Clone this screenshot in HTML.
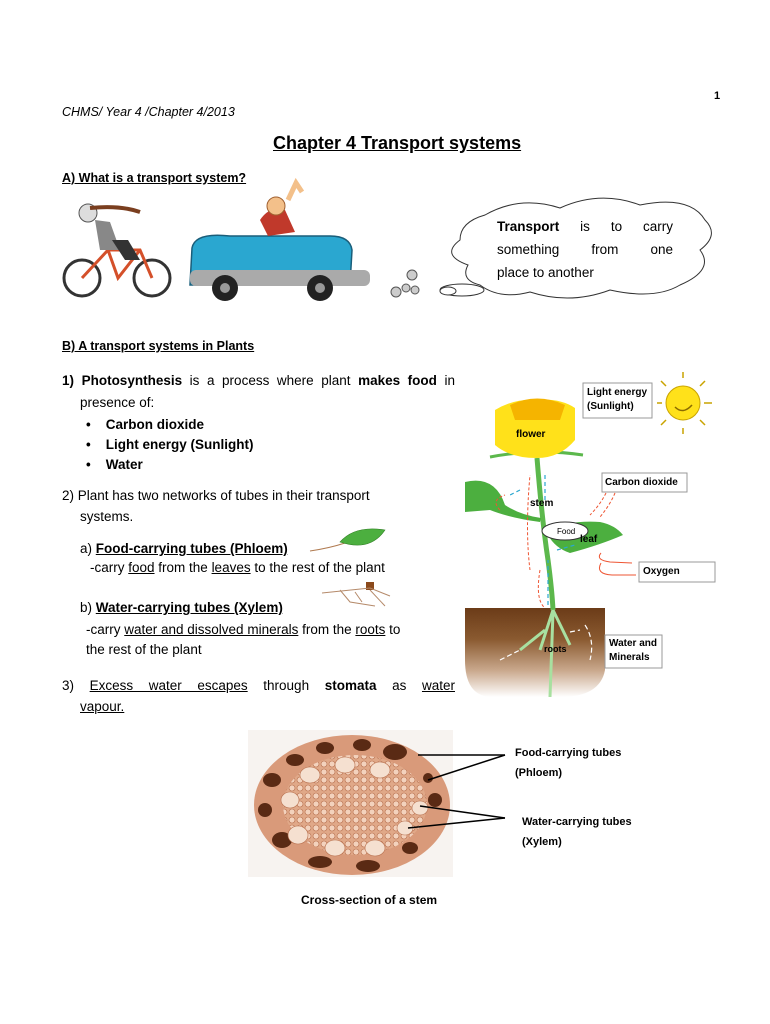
<!DOCTYPE html>
<html><head><meta charset="utf-8">
<style>
body{margin:0;background:#fff;}
#p{position:relative;width:770px;height:1024px;overflow:hidden;font-family:"Liberation Sans",sans-serif;color:#000;}
.t{position:absolute;white-space:nowrap;font-size:13.5px;line-height:16px;}
.b{font-weight:bold;}
.u{text-decoration:underline;}
.j{position:absolute;text-align:justify;text-align-last:justify;white-space:normal;font-size:13.5px;line-height:16px;}
.lbl{position:absolute;font-size:11px;font-weight:bold;line-height:14px;}
</style></head><body><div id="p">

<div class="t b" style="left:714px;top:88px;font-size:11px;">1</div>
<div class="t" style="left:62px;top:104px;font-style:italic;font-size:12.5px;">CHMS/ Year 4 /Chapter 4/2013</div>
<div class="t b u" style="left:273px;top:132px;font-size:18px;line-height:22px;">Chapter 4 Transport systems</div>
<div class="t b u" style="left:62px;top:170px;font-size:12.5px;">A) What is a transport system?</div>

<svg style="position:absolute;left:0;top:0" width="770" height="1024">
 <defs>
  <linearGradient id="soil" x1="0" y1="0" x2="0" y2="1">
   <stop offset="0" stop-color="#6b3b18"/><stop offset="0.35" stop-color="#8a5a30"/><stop offset="0.7" stop-color="#c9a88c"/><stop offset="1" stop-color="#fff"/>
  </linearGradient>
  <pattern id="cells" width="8" height="8" patternUnits="userSpaceOnUse">
   <rect width="8" height="8" fill="#e0a888"/><circle cx="4" cy="4" r="3" fill="#f3d2bd" stroke="#b8704e" stroke-width=".6"/>
  </pattern>
 </defs>
 <g fill="none" stroke="#333" stroke-width="3">
  <circle cx="82" cy="278" r="18"/><circle cx="152" cy="278" r="18"/>
 </g>
 <path d="M82 278 L108 250 L140 250 L152 278 M108 250 L118 278 L140 250" stroke="#d4502a" stroke-width="3" fill="none"/>
 <path d="M95 220 L110 222 L120 250 L100 250 Z" fill="#888"/>
 <path d="M112 240 L128 240 L140 260 L125 260Z" fill="#333"/>
 <circle cx="88" cy="213" r="9" fill="#ddd" stroke="#555"/>
 <path d="M90 208 Q120 205 140 212" stroke="#7a3e1f" stroke-width="4" fill="none"/>
 <path d="M192 248 Q195 232 230 236 L330 236 Q350 236 352 250 L350 285 L190 285 Z" fill="#2aa7d0" stroke="#1a5e7a" stroke-width="1.5"/>
 <rect x="190" y="270" width="180" height="16" rx="6" fill="#aaa"/>
 <circle cx="225" cy="288" r="13" fill="#222"/><circle cx="225" cy="288" r="5" fill="#999"/>
 <circle cx="320" cy="288" r="13" fill="#222"/><circle cx="320" cy="288" r="5" fill="#999"/>
 <path d="M260 220 Q270 205 285 210 L295 232 L268 236Z" fill="#c0392b"/>
 <circle cx="276" cy="206" r="9" fill="#f3c08a" stroke="#a06030"/>
 <path d="M288 200 L296 183 L302 192" stroke="#f3c08a" stroke-width="5" fill="none"/>
 <g fill="#ccc" stroke="#555"><circle cx="396" cy="292" r="5"/><circle cx="406" cy="288" r="4"/><circle cx="412" cy="275" r="5"/><circle cx="415" cy="290" r="4"/></g>
 <path d="M485 215 Q520 195 560 208 Q600 190 640 205 Q690 195 705 220 Q720 235 700 250 Q715 270 680 285 Q655 300 610 290 Q570 305 530 292 Q500 300 480 285 Q460 280 468 265 Q440 255 460 240 Q460 222 485 215Z" fill="#fff" stroke="#333" stroke-width="1"/>
 <ellipse cx="462" cy="290" rx="22" ry="6" fill="#fff" stroke="#333"/>
 <ellipse cx="448" cy="291" rx="8" ry="4" fill="#fff" stroke="#333"/>
</svg>
<div class="j" style="left:497px;top:219px;width:176px;"><span class="b">Transport</span> is to carry</div>
<div class="j" style="left:497px;top:242px;width:176px;">something from one</div>
<div class="t" style="left:497px;top:265px;">place to another</div>

<div class="t b u" style="left:62px;top:338px;font-size:12.5px;">B) A transport systems in Plants</div>

<div class="j" style="left:62px;top:373px;width:393px;"><span class="b">1) Photosynthesis</span> is a process where plant <span class="b">makes food</span> in</div>
<div class="t" style="left:80px;top:395px;">presence of:</div>
<div class="t b" style="left:86px;top:417px;">•&nbsp;&nbsp;&nbsp;&nbsp;Carbon dioxide</div>
<div class="t b" style="left:86px;top:437px;">•&nbsp;&nbsp;&nbsp;&nbsp;Light energy (Sunlight)</div>
<div class="t b" style="left:86px;top:457px;">•&nbsp;&nbsp;&nbsp;&nbsp;Water</div>
<div class="t" style="left:62px;top:488px;">2) Plant has two networks of tubes in their transport</div>
<div class="t" style="left:80px;top:509px;">systems.</div>
<div class="t" style="left:80px;top:541px;">a) <span class="b u">Food-carrying tubes (Phloem)</span></div>
<div class="t" style="left:90px;top:560px;">-carry <span class="u">food</span> from the <span class="u">leaves</span> to the rest of the plant</div>
<div class="t" style="left:80px;top:600px;">b) <span class="b u">Water-carrying tubes (Xylem)</span></div>
<div class="t" style="left:86px;top:622px;">-carry <span class="u">water and dissolved minerals</span> from the <span class="u">roots</span> to</div>
<div class="t" style="left:86px;top:642px;">the rest of the plant</div>
<div class="j" style="left:62px;top:678px;width:393px;">3) <span class="u">Excess water escapes</span> through <span class="b">stomata</span> as <span class="u">water</span></div>
<div class="t u" style="left:80px;top:699px;">vapour.</div>

<svg style="position:absolute;left:0;top:0" width="770" height="1024">
 <defs>
  <linearGradient id="soil2" x1="0" y1="0" x2="0" y2="1">
   <stop offset="0" stop-color="#6b3b18"/><stop offset="0.35" stop-color="#8a5a30"/><stop offset="0.7" stop-color="#c9a88c"/><stop offset="1" stop-color="#fff"/>
  </linearGradient>
  <pattern id="cells2" width="8" height="8" patternUnits="userSpaceOnUse">
   <rect width="8" height="8" fill="#e0a888"/><circle cx="4" cy="4" r="3" fill="#f3d2bd" stroke="#b8704e" stroke-width=".6"/>
  </pattern>
 </defs>
 <path d="M310 551 Q330 548 345 543" stroke="#b07a50" stroke-width="1" fill="none"/>
 <path d="M340 542 Q355 525 385 530 Q370 552 340 542Z" fill="#4caf3f" stroke="#2e7d22" stroke-width=".6"/>
 <rect x="366" y="582" width="8" height="8" fill="#8b4a1c"/>
 <path d="M322 593 L370 588 L390 596 M340 590 L350 602 L375 606 M355 592 L362 602 M370 590 L385 606" stroke="#b58a6a" stroke-width="1" fill="none"/>

 <path d="M465 608 L605 608 L605 670 Q600 697 560 697 L490 697 Q465 695 465 660Z" fill="url(#soil2)"/>
 <path d="M537 458 Q542 520 548 560 Q552 590 553 610" stroke="#5cb84c" stroke-width="5" fill="none"/>
 <path d="M553 610 L540 650 M553 610 L570 645 M553 612 L550 697 M545 630 L520 650" stroke="#a8e0a0" stroke-width="3" fill="none"/>
 <g stroke="#fff" stroke-width="1.2" fill="none" stroke-dasharray="5,3"><path d="M585 625 Q595 640 590 660"/><path d="M500 660 L520 650"/><path d="M570 632 L580 630"/></g>
 <path d="M490 457 Q537 448 583 455" stroke="#5cb84c" stroke-width="3" fill="none"/>
 <path d="M495 410 Q515 398 537 400 Q560 398 575 408 L575 440 Q560 458 537 458 Q510 458 495 445Z" fill="#ffe11a"/>
 <path d="M510 405 Q537 392 565 405 L560 420 L515 420Z" fill="#f5b400"/>
 <path d="M465 482 Q495 475 505 505 Q520 515 541 518 L540 522 Q510 518 490 510 L465 512Z" fill="#4caf3f"/>
 <path d="M548 530 Q570 520 600 522 Q615 525 623 535 Q600 545 570 553 Q555 548 548 535Z" fill="#4caf3f"/>
 <ellipse cx="565" cy="531" rx="23" ry="9" fill="#fff" stroke="#333" stroke-width="1"/>
 <g stroke="#e53" stroke-width="1" fill="none" stroke-dasharray="3,2">
  <path d="M530 570 Q525 530 530 475"/><path d="M540 570 Q535 600 545 608"/><path d="M500 510 Q490 500 505 495"/>
  <path d="M606 493 Q600 505 590 515"/><path d="M615 493 Q610 505 600 517"/>
 </g>
 <g stroke="#e53" stroke-width="1" fill="none">
  <path d="M601 553 Q595 560 610 562 L632 563"/><path d="M601 563 Q595 574 612 575 L636 575"/>
 </g>
 <g stroke="#2aa7d0" stroke-width="1.2" fill="none" stroke-dasharray="4,3">
  <path d="M548 605 L548 560"/><path d="M545 500 L545 475"/><path d="M520 490 L510 495"/><path d="M557 550 L575 545"/>
 </g>
 <rect x="583" y="383" width="69" height="35" fill="#fff" stroke="#999"/>
 <circle cx="683" cy="403" r="17" fill="#ffe11a" stroke="#c9a300"/>
 <path d="M675 407 Q683 415 692 405" stroke="#8a6a00" fill="none" stroke-width="1.5"/>
 <g stroke="#c9a300" stroke-width="1.5"><path d="M683 378 L683 372"/><path d="M683 428 L683 434"/><path d="M704 403 L712 403"/><path d="M657 403 L662 403"/><path d="M700 386 L705 381"/><path d="M700 420 L705 425"/><path d="M666 420 L661 425"/><path d="M666 386 L661 381"/></g>
 <rect x="602" y="473" width="85" height="19" fill="#fff" stroke="#999"/>
 <rect x="639" y="562" width="76" height="20" fill="#fff" stroke="#999"/>
 <rect x="605" y="635" width="57" height="33" fill="#fff" stroke="#999"/>

 <rect x="248" y="730" width="205" height="147" fill="#f7f3f0"/>
 <ellipse cx="352" cy="805" rx="98" ry="70" fill="#d99a7a"/>
 <ellipse cx="355" cy="805" rx="72" ry="50" fill="url(#cells2)"/>
 <g fill="#5a2a14">
  <ellipse cx="295" cy="760" rx="9" ry="6"/><ellipse cx="325" cy="748" rx="9" ry="6"/><ellipse cx="362" cy="745" rx="9" ry="6"/><ellipse cx="395" cy="752" rx="12" ry="8"/>
  <ellipse cx="272" cy="780" rx="9" ry="7"/><ellipse cx="265" cy="810" rx="7" ry="7"/><ellipse cx="282" cy="840" rx="10" ry="8"/><ellipse cx="320" cy="862" rx="12" ry="6"/>
  <ellipse cx="368" cy="866" rx="12" ry="6"/><ellipse cx="410" cy="848" rx="8" ry="6"/><ellipse cx="435" cy="800" rx="7" ry="7"/><ellipse cx="428" cy="778" rx="5" ry="5"/>
 </g>
 <g fill="#f5e0d0" stroke="#b8704e" stroke-width=".6">
  <ellipse cx="310" cy="775" rx="10" ry="8"/><ellipse cx="345" cy="765" rx="10" ry="8"/><ellipse cx="380" cy="770" rx="10" ry="8"/><ellipse cx="290" cy="800" rx="9" ry="8"/>
  <ellipse cx="298" cy="835" rx="10" ry="9"/><ellipse cx="335" cy="848" rx="10" ry="8"/><ellipse cx="375" cy="848" rx="10" ry="8"/><ellipse cx="420" cy="808" rx="8" ry="7"/><ellipse cx="405" cy="828" rx="8" ry="7"/>
 </g>
 <g stroke="#000" stroke-width="1.5">
  <path d="M505 755 L418 755"/><path d="M505 755 L428 780"/><path d="M505 818 L420 806"/><path d="M505 818 L408 828"/>
 </g>
</svg>
<div class="lbl" style="left:587px;top:386px;font-size:10px;line-height:14px;">Light energy<br>(Sunlight)</div>
<div class="lbl" style="left:516px;top:428px;font-size:10px;">flower</div>
<div class="lbl" style="left:530px;top:497px;font-size:10px;">stem</div>
<div class="lbl" style="left:557px;top:525px;font-size:8px;font-weight:normal;">Food</div>
<div class="lbl" style="left:580px;top:533px;font-size:10px;">leaf</div>
<div class="lbl" style="left:605px;top:476px;font-size:10px;">Carbon dioxide</div>
<div class="lbl" style="left:643px;top:565px;font-size:10px;">Oxygen</div>
<div class="lbl" style="left:609px;top:637px;font-size:10px;">Water and<br>Minerals</div>
<div class="lbl" style="left:544px;top:642px;font-size:9px;">roots</div>

<div class="lbl" style="left:515px;top:743px;line-height:20px;">Food-carrying tubes<br>(Phloem)</div>
<div class="lbl" style="left:522px;top:812px;line-height:20px;">Water-carrying tubes<br>(Xylem)</div>
<div class="lbl" style="left:301px;top:893px;font-size:12px;">Cross-section of a stem</div>
</div></body></html>
